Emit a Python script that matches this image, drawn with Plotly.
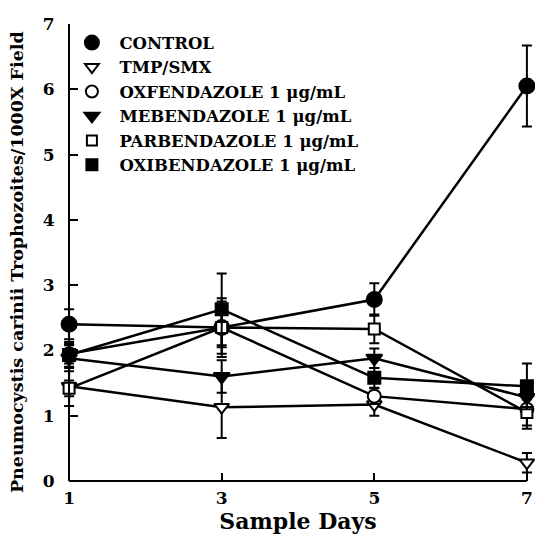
import plotly.graph_objects as go

days = [1, 3, 5, 7]
names = ["CONTROL", "TMP/SMX", "OXFENDAZOLE 1 μg/mL", "MEBENDAZOLE 1 μg/mL",
         "PARBENDAZOLE 1 μg/mL", "OXIBENDAZOLE 1 μg/mL"]
control = [2.40, 2.35, 2.78, 6.05]
control_err = [0.23, 0.45, 0.25, 0.62]
tmp_smx = [1.45, 1.13, 1.17, 0.28]
tmp_smx_err = [0.30, 0.47, 0.17, 0.15]
oxfendazole = [1.95, 2.35, 1.30, 1.10]
oxfendazole_err = [0.15, 0.30, 0.12, 0.30]
mebendazole = [1.88, 1.60, 1.88, 1.28]
mebendazole_err = [0.20, 0.25, 0.15, 0.25]
parbendazole = [1.42, 2.35, 2.33, 1.05]
parbendazole_err = [0.12, 0.40, 0.22, 0.20]
oxibendazole = [1.93, 2.63, 1.58, 1.45]
oxibendazole_err = [0.20, 0.55, 0.15, 0.35]
x_ticks = [1, 3, 5, 7]
y_ticks = [0, 1, 2, 3, 4, 5, 6, 7]
y_title = "Pneumocystis carinii Trophozoites/1000X Field"
x_title = "Sample Days"

series = [
    (control, control_err, "circle", "black", 15),
    (tmp_smx, tmp_smx_err, "triangle-down", "white", 13),
    (oxfendazole, oxfendazole_err, "circle", "white", 13),
    (mebendazole, mebendazole_err, "triangle-down", "black", 14),
    (parbendazole, parbendazole_err, "square", "white", 11),
    (oxibendazole, oxibendazole_err, "square", "black", 12),
]

FONT = "DejaVu Serif"
pad = 0.08
x_lo, x_hi = days[0] - pad, days[-1] + pad
p = pad / (x_hi - x_lo)

fig = go.Figure()
for (vals, err, sym, fill, size), name in zip(series, names):
    fig.add_trace(go.Scatter(
        x=days, y=vals, mode="lines+markers", showlegend=False,
        line=dict(color="black", width=2.5),
        marker=dict(symbol=sym, color=fill, size=size, line=dict(color="black", width=2)),
        error_y=dict(type="data", array=err, visible=True, color="black", thickness=2, width=5),
        cliponaxis=False,
    ))
for i, ((vals, err, sym, fill, size), name) in enumerate(zip(series, names)):
    fig.add_trace(go.Scatter(
        x=[None], y=[None], mode="markers", name=name, legendgroup=str(i),
        marker=dict(symbol=sym, color=fill, size=size - 1, line=dict(color="black", width=2)),
    ))

# x-axis baseline from day 1 to day 7
fig.add_shape(type="line", xref="paper", yref="paper", x0=p, x1=1 - p, y0=0, y1=0,
              line=dict(color="black", width=2))

fig.add_annotation(text=y_title, textangle=-90, xref="paper", yref="paper",
                   x=-0.098, y=0.479, xanchor="center", yanchor="middle", showarrow=False,
                   font=dict(size=17.5, family=FONT, weight="bold", color="black"))

fig.update_layout(
    width=535, height=542,
    margin=dict(l=63, r=2, t=24, b=61),
    plot_bgcolor="white", paper_bgcolor="white",
    font=dict(family=FONT, color="black", size=15, weight="bold"),
    showlegend=True,
    legend=dict(x=0.003, y=0.997, xanchor="left", yanchor="top",
                font=dict(family=FONT, size=16.5, weight="bold"),
                itemwidth=45, tracegroupgap=0, bgcolor="rgba(0,0,0,0)"),
    xaxis=dict(range=[x_lo, x_hi], tickvals=x_ticks, ticks="inside", ticklen=8, tickwidth=2,
               tickcolor="black",
               showline=False, showgrid=False, zeroline=False,
               tickfont=dict(size=17, family=FONT, weight="bold"), ticklabelstandoff=5,
               title=dict(text=x_title, font=dict(size=22, family=FONT, weight="bold"), standoff=6)),
    yaxis=dict(range=[0, 7], tickvals=y_ticks, ticks="inside", ticklen=8, tickwidth=2,
               tickcolor="black", anchor="free", position=p,
               showline=True, linecolor="black", linewidth=2, showgrid=False, zeroline=False,
               tickfont=dict(size=17, family=FONT, weight="bold"), ticklabelstandoff=10),
)
fig.write_html("out.html", config={"displayModeBar": False},
               post_script="document.body.style.margin='0';")
